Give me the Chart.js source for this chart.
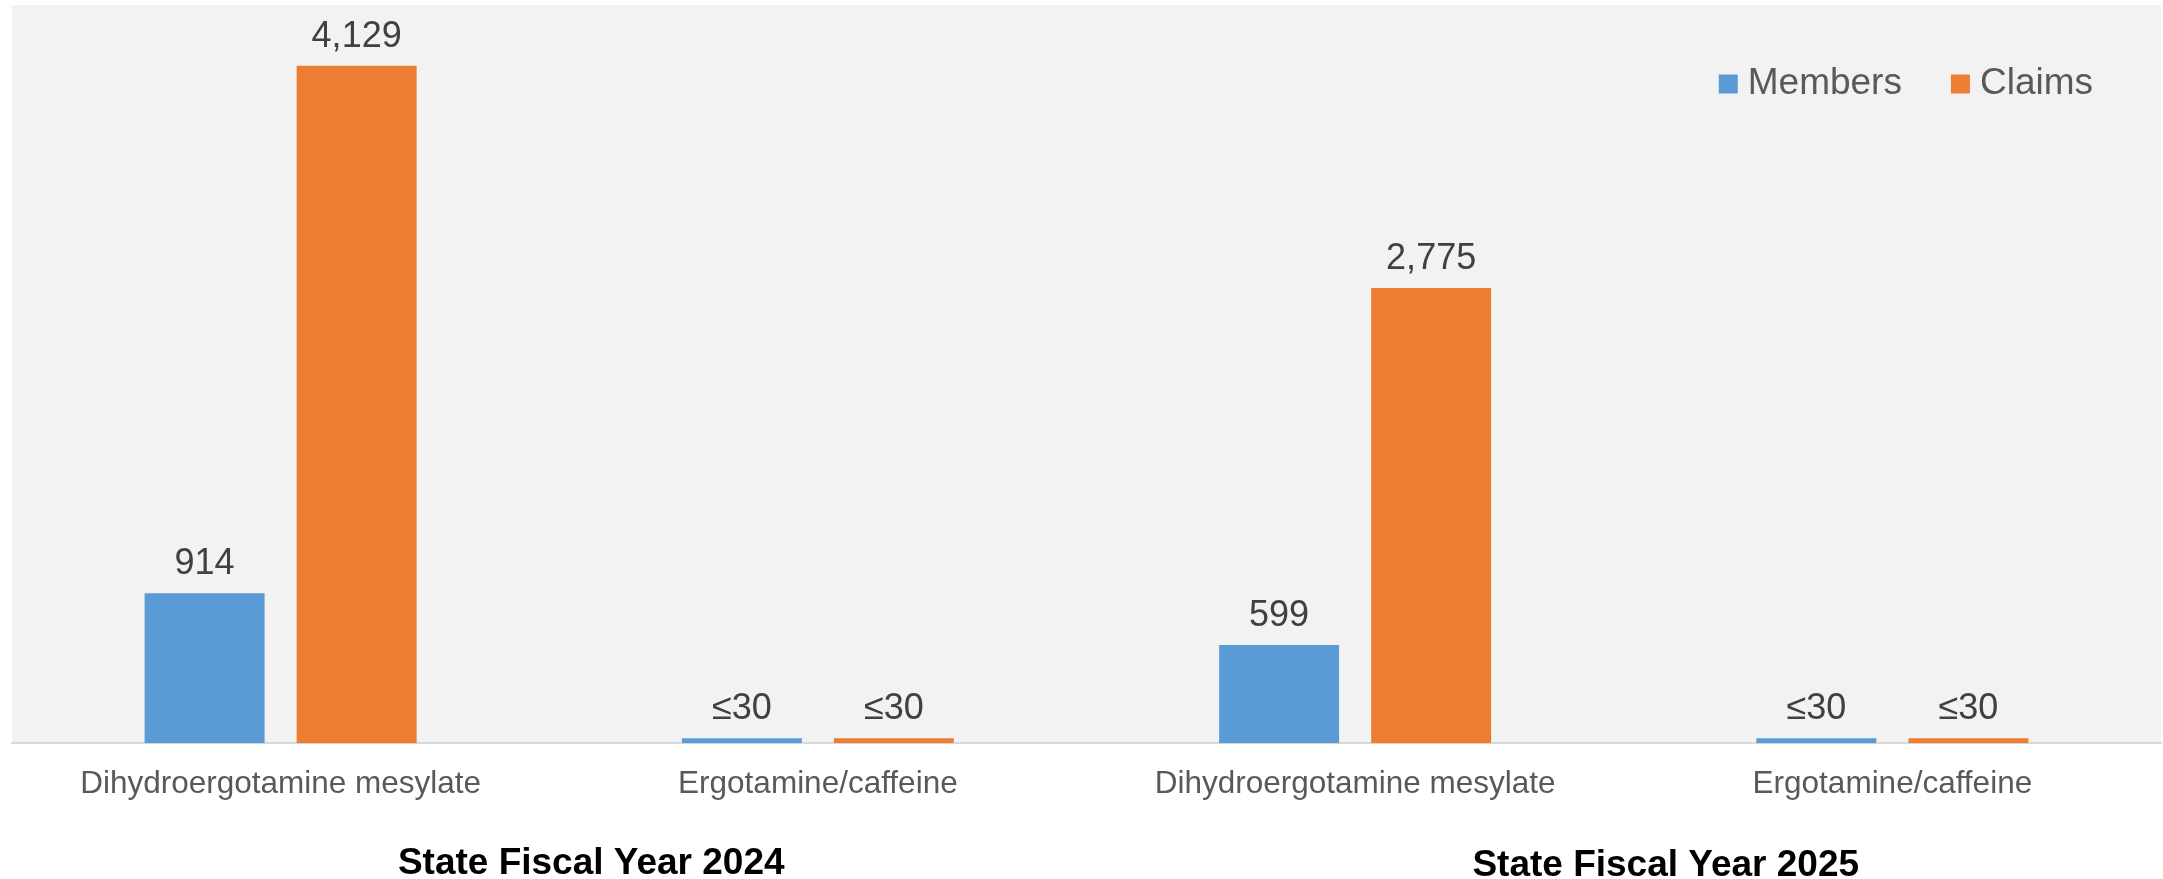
<!DOCTYPE html>
<html>
<head>
<meta charset="utf-8">
<script src="https://cdn.jsdelivr.net/npm/chart.js@4/dist/chart.umd.min.js"></script>
<style>
  html, body { margin: 0; padding: 0; background: #ffffff; }
  #wrap { width: 2163px; height: 879px; position: relative; }
</style>
</head>
<body>
<div id="wrap"><canvas id="chart"></canvas></div>
<script>
// Drug utilisation by fiscal year
const categories = ['Dihydroergotamine mesylate', 'Ergotamine/caffeine', 'Dihydroergotamine mesylate', 'Ergotamine/caffeine'];
const fiscalYears = ['State Fiscal Year 2024', 'State Fiscal Year 2025'];
const seriesNames = ['Members', 'Claims'];
const members = [914, 30, 599, 30];
const claims = [4129, 30, 2775, 30];
// Counts of 30 or fewer are suppressed and shown as "≤30"
const memberLabels = ['914', '≤30', '599', '≤30'];
const claimLabels = ['4,129', '≤30', '2,775', '≤30'];
const yMax = 4500;

const FONT = '"Liberation Sans", Arial, sans-serif';
const colors = ['#5B9BD5', '#ED7D31'];

// Grey plot-area fill
const plotBackground = {
  id: 'plotBackground',
  beforeDraw(chart) {
    const { ctx, chartArea: a } = chart;
    ctx.save();
    ctx.fillStyle = '#F2F2F2';
    ctx.fillRect(a.left, a.top, a.right - a.left, a.bottom - a.top);
    ctx.restore();
  }
};

// Value labels above each bar
const valueLabels = {
  id: 'valueLabels',
  afterDatasetsDraw(chart) {
    const { ctx } = chart;
    const texts = [memberLabels, claimLabels];
    ctx.save();
    ctx.font = '36px ' + FONT;
    ctx.fillStyle = '#404040';
    ctx.textAlign = 'center';
    ctx.textBaseline = 'alphabetic';
    chart.data.datasets.forEach((ds, di) => {
      chart.getDatasetMeta(di).data.forEach((bar, i) => {
        ctx.fillText(texts[di][i], bar.x, bar.y - 19);
      });
    });
    ctx.restore();
  }
};

// Legend in the top-right corner of the plot area
const cornerLegend = {
  id: 'cornerLegend',
  afterDraw(chart) {
    const { ctx, chartArea: a } = chart;
    ctx.save();
    ctx.font = '37px ' + FONT;
    ctx.textBaseline = 'middle';
    const box = 19, boxGap = 10, itemGap = 49;
    const widths = seriesNames.map(n => box + boxGap + ctx.measureText(n).width);
    const total = widths.reduce((s, w) => s + w, 0) + itemGap * (seriesNames.length - 1);
    let x = a.right - 68 - total;
    const cy = a.top + 79;
    seriesNames.forEach((n, i) => {
      ctx.fillStyle = colors[i];
      ctx.fillRect(x, cy - box / 2, box, box);
      ctx.fillStyle = '#595959';
      ctx.fillText(n, x + box + boxGap, cy);
      x += widths[i] + itemGap;
    });
    ctx.restore();
  }
};

// Fiscal-year captions under each pair of categories
const yearCaptions = {
  id: 'yearCaptions',
  afterDraw(chart) {
    const { ctx } = chart;
    const xs = chart.scales.x;
    ctx.save();
    ctx.font = 'bold 37px ' + FONT;
    ctx.fillStyle = '#000000';
    ctx.textAlign = 'center';
    ctx.textBaseline = 'alphabetic';
    fiscalYears.forEach((label, g) => {
      const mid = (xs.getPixelForValue(g * 2) + xs.getPixelForValue(g * 2 + 1)) / 2;
      ctx.fillText(label, mid + 42, chart.chartArea.bottom + 131 + g * 2);
    });
    ctx.restore();
  }
};

new Chart(document.getElementById('chart'), {
  type: 'bar',
  data: {
    labels: categories,
    datasets: [
      { label: seriesNames[0], data: members, backgroundColor: colors[0] },
      { label: seriesNames[1], data: claims, backgroundColor: colors[1] }
    ]
  },
  options: {
    responsive: true,
    maintainAspectRatio: false,
    animation: false,
    devicePixelRatio: 1,
    layout: { padding: { left: 12, right: 2, top: 5, bottom: 54 } },
    datasets: { bar: { categoryPercentage: 0.566, barPercentage: 0.789 } },
    plugins: {
      legend: { display: false },
      tooltip: { enabled: false }
    },
    scales: {
      x: {
        grid: { display: false, drawTicks: false },
        border: { display: true, color: '#D9D9D9', width: 2 },
        ticks: {
          color: '#595959',
          font: { family: FONT, size: 31.5 },
          padding: 22,
          maxRotation: 0,
          autoSkip: false
        }
      },
      y: {
        display: false,
        min: 0,
        max: yMax
      }
    }
  },
  plugins: [plotBackground, valueLabels, cornerLegend, yearCaptions]
});
</script>
</body>
</html>
